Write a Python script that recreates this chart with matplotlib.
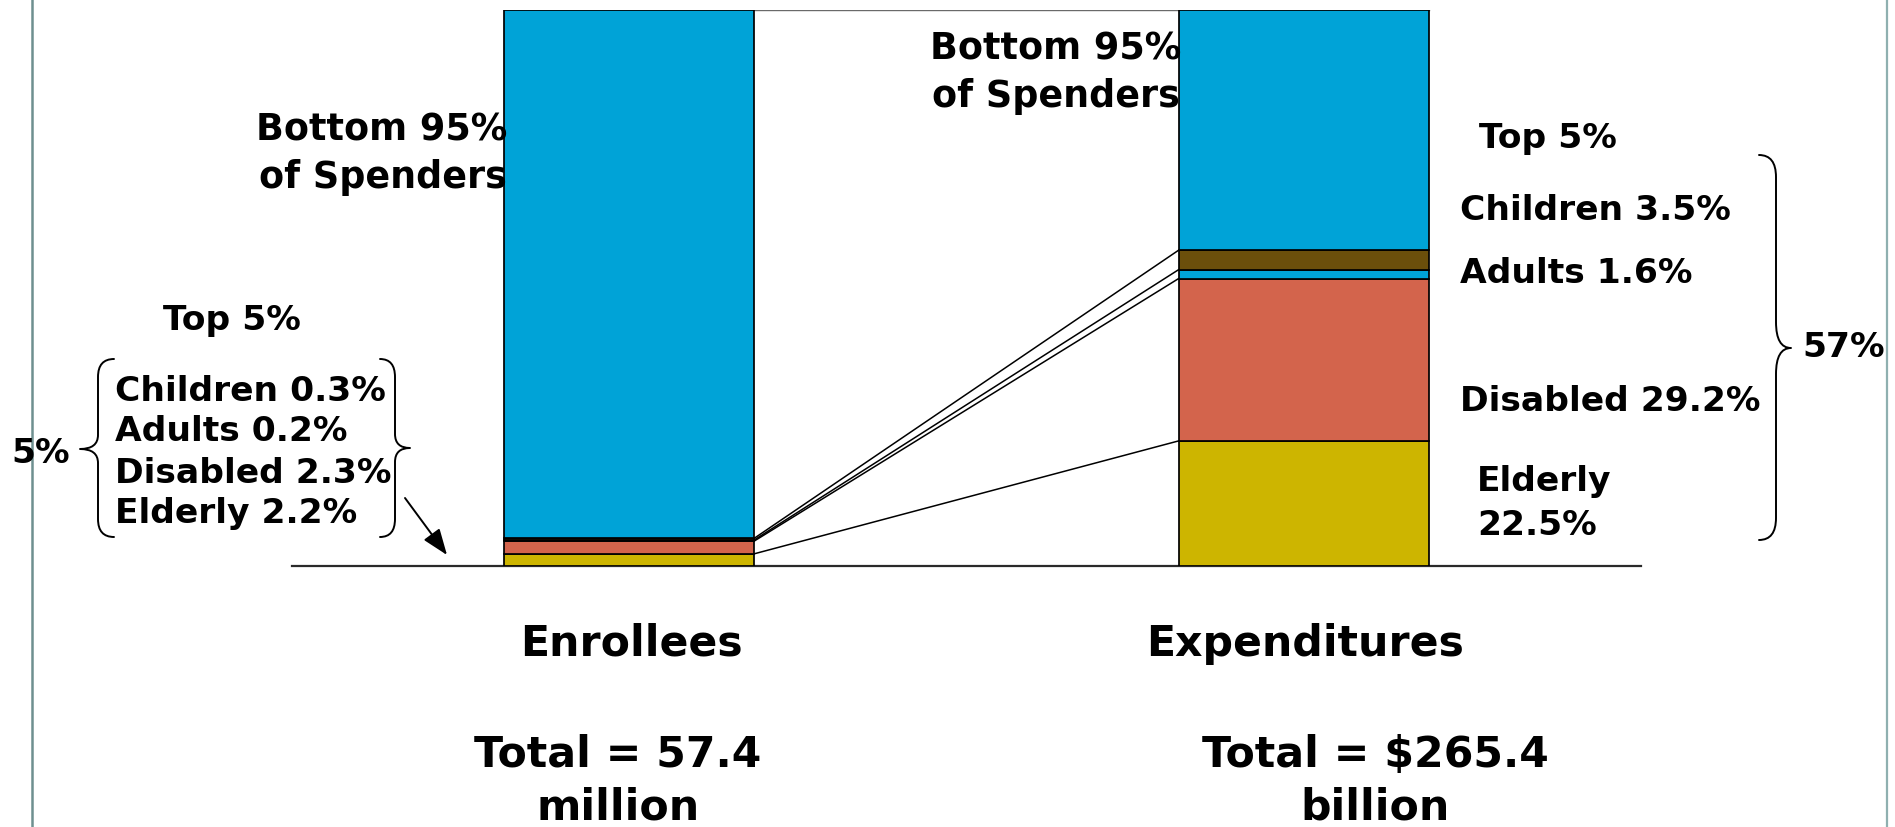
import matplotlib
matplotlib.use("Agg")
import matplotlib.pyplot as plt
import numpy as np
from matplotlib.path import Path
from matplotlib.patches import PathPatch

# ---------------- data ----------------
categories = ["Enrollees", "Expenditures"]
segment_names = ["Elderly", "Disabled", "Adults", "Children", "Bottom 95%"]
elderly = [2.2, 22.5]
disabled = [2.3, 29.2]
adults = [0.2, 1.6]
children = [0.3, 3.5]
bottom95 = [95.0, 43.2]
totals_text = ["Total = 57.4\nmillion", "Total = $265.4\nbillion"]
left_list = ["Children 0.3%", "Adults 0.2%", "Disabled 2.3%", "Elderly 2.2%"]
right_list = ["Children 3.5%", "Adults 1.6%", "Disabled 29.2%"]

colors = ["#CDB500", "#D3644C", "#00A3D7", "#6B4F0B", "#00A3D7"]

W, H = 1895, 827
fig = plt.figure(figsize=(W / 100, H / 100), dpi=100)
fig.patch.set_facecolor("white")

# main chart axes (pixel layout of plot area)
ax_l, ax_r, ax_b, ax_t = 292, 1641, 566, 10
ax = fig.add_axes([ax_l / W, (H - ax_b) / H, (ax_r - ax_l) / W, (ax_b - ax_t) / H])
ax.set_xlim(-0.5, 1.5)
ax.set_ylim(0, 100)
for s in ["top", "left", "right"]:
    ax.spines[s].set_visible(False)
ax.spines["bottom"].set_color("#2a2a2a")
ax.spines["bottom"].set_linewidth(1.6)
ax.set_xticks([])
ax.set_yticks([])
ax.patch.set_alpha(0)

x = np.arange(len(categories))
bw = 0.371
series = [elderly, disabled, adults, children, bottom95]
base = np.zeros(len(categories))
tops = []
for vals, c in zip(series, colors):
    vals = np.array(vals, dtype=float)
    ax.bar(x, vals, bw, bottom=base, color=c, edgecolor="black", linewidth=1.25, zorder=3)
    base = base + vals
    tops.append(base.copy())

# grey top line of plot area
ax.plot([x[0] - bw / 2, x[1] + bw / 2], [100, 100], color="#6a6a6a", lw=1.0, zorder=1)

# connector lines between the bars (top of each Top-5% segment)
for t in tops[:4]:
    ax.plot([x[0] + bw / 2, x[1] - bw / 2], [t[0], t[1]], color="black", lw=1.1, zorder=2)

# ---------------- overlay in pixel coordinates ----------------
ov = fig.add_axes([0, 0, 1, 1], zorder=5)
ov.set_xlim(0, W)
ov.set_ylim(H, 0)
ov.axis("off")
ov.patch.set_alpha(0)

FONT = "DejaVu Sans"


def txt(xp, yc, s, size, ha="left"):
    fpx = size / 0.72
    ov.text(xp, yc + 0.365 * fpx, s, ha=ha, va="baseline", fontsize=size,
            fontweight="bold", family=FONT, color="black")


SMALL = 24.8
BIG = 30.7
B95 = 26.3

# Bottom 95% labels
txt(382, 127.5, "Bottom 95%", B95, "center")
txt(383, 174.5, "of Spenders", B95, "center")
txt(1056, 46, "Bottom 95%", B95, "center")
txt(1056, 94, "of Spenders", B95, "center")

# left Top 5%
txt(232, 317, "Top 5%", SMALL, "center")
for s, yy in zip(left_list, [388, 428, 470, 510]):
    txt(115, yy, s, SMALL)
txt(41, 450, "5%", SMALL, "center")

# right Top 5%
txt(1479, 135, "Top 5%", SMALL)
for s, yy in zip(right_list, [207, 270, 398]):
    txt(1460, yy, s, SMALL)
txt(1477, 478, "Elderly", SMALL)
txt(1477, 522, "22.5%", SMALL)
txt(1802, 344, "57%", SMALL)

# category labels and totals
cat_x = [631, 1305]
for name, cx in zip(categories, cat_x):
    txt(cx, 640, name, BIG, "center")
tot_x = [618, 1375]
for t, tx in zip(totals_text, tot_x):
    l1, l2 = t.split("\n")
    txt(tx, 751, l1, BIG, "center")
    txt(tx, 804, l2, BIG, "center")


def brace(x_hook, x_body, x_tip, y0, y1, ym, r, rt):
    verts = [
        (x_hook, y0),
        (x_body, y0), (x_body, y0 + r),
        (x_body, ym - rt),
        (x_body, ym), (x_tip, ym),
        (x_body, ym), (x_body, ym + rt),
        (x_body, y1 - r),
        (x_body, y1), (x_hook, y1),
    ]
    codes = [Path.MOVETO,
             Path.CURVE3, Path.CURVE3,
             Path.LINETO,
             Path.CURVE3, Path.CURVE3,
             Path.CURVE3, Path.CURVE3,
             Path.LINETO,
             Path.CURVE3, Path.CURVE3]
    ov.add_patch(PathPatch(Path(verts, codes), fill=False, lw=1.4, edgecolor="black",
                           capstyle="round", joinstyle="round"))


brace(114, 98, 80, 359, 537, 449, 18, 14)
brace(380, 395, 410, 359, 537, 448, 18, 14)
brace(1759, 1776, 1791, 155, 540, 348, 22, 26)

# arrow
ov.annotate("", xy=(447, 555), xytext=(405, 498),
            arrowprops=dict(arrowstyle="-|>,head_length=0.8,head_width=0.3",
                            color="black", lw=1.4, mutation_scale=20,
                            shrinkA=0, shrinkB=0))

# slide border lines
ov.plot([32, 32], [0, H], color="#6e9090", lw=1.8)
ov.plot([1887, 1887], [0, H], color="#8fb0b0", lw=1.6)

fig.savefig("out.png", dpi=100)
